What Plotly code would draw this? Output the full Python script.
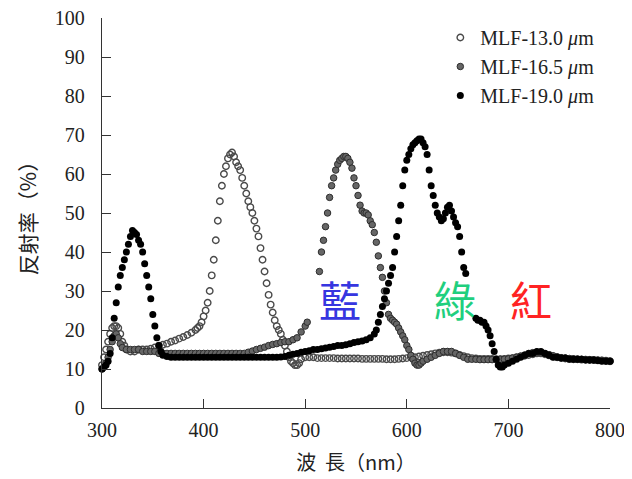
import plotly.graph_objects as go

# ---------------- data ----------------
wl_13 = [300, 302, 304, 306, 308, 310, 312, 314, 316, 318, 320, 322, 324, 328, 332, 336, 340, 344, 348, 352,
         356, 360, 364, 368, 372, 376, 380, 384, 388, 392, 394, 396, 398, 400, 402, 404, 406, 408, 410, 412,
         414, 416, 418, 420, 422, 424, 426, 428, 430, 432, 434, 436, 438, 440, 442, 444, 446, 448, 450, 452,
         454, 456, 458, 460, 462, 464, 466, 468, 470, 472, 474, 476, 478, 480, 482, 484, 486, 488, 490, 492,
         494, 496, 500, 504, 508, 512, 516, 520, 524, 528, 532, 536, 540, 544, 548, 552, 556, 560, 564, 568,
         572, 576, 580, 584, 588, 592, 596, 600, 604, 608, 612, 616, 620, 624, 628, 632, 636, 640, 644, 648,
         652, 656, 660, 664, 668, 672, 676, 680, 684, 688, 692, 696, 700, 704, 708, 712, 716, 720, 724, 728,
         732, 736, 740, 744, 748, 752, 756, 760, 764, 768, 772, 776, 780, 784, 788, 792, 796, 800]
r_13 = [11, 13, 15, 17, 19, 20.5, 21, 21, 20.5, 19, 17, 16, 15, 14.5, 14.5, 15, 15, 15, 15.2, 15.5,
        16, 16.2, 16.5, 17, 17.3, 17.8, 18.2, 18.7, 19.3, 20, 20.5, 21, 22, 23.5, 25, 27, 30, 34, 38, 43,
        48, 53, 57, 60, 62, 64, 65, 65.5, 64.5, 63, 62, 61, 59, 57, 55, 53, 51.5, 50, 48, 46,
        44, 41, 38, 35, 32, 29, 26.5, 24.5, 22.5, 21, 20, 19, 17.5, 16, 14.5, 13, 12, 11.5, 11, 11,
        11.5, 12.5, 13, 13, 13, 12.8, 12.8, 12.8, 12.8, 12.8, 12.7, 12.7, 12.7, 12.7, 12.7, 12.7, 12.6, 12.6, 12.6, 12.6,
        12.6, 12.6, 12.5, 12.5, 12.5, 12.6, 12.7, 12.8, 13, 13, 13.2, 13.4, 13.6, 13.8, 14, 14.2, 14.3, 14.3, 14.2, 14,
        13.6, 13.3, 13, 12.8, 12.7, 12.6, 12.6, 12.6, 12.6, 12.5, 12.5, 12.6, 12.7, 12.8, 13, 13.2, 13.4, 13.6, 13.8, 14,
        14, 13.8, 13.5, 13.2, 13, 12.8, 12.7, 12.6, 12.5, 12.5, 12.4, 12.4, 12.3, 12.3, 12.2, 12.2, 12.1, 12]

wl_165 = [300, 302, 304, 306, 308, 310, 312, 314, 316, 318, 320, 324, 328, 332, 336, 340, 344, 348, 352, 356,
          360, 364, 368, 372, 376, 380, 384, 388, 392, 396, 400, 404, 408, 412, 416, 420, 424, 428, 432, 436,
          440, 444, 448, 452, 456, 460, 464, 468, 472, 476, 480, 484, 488, 492, 496, 500, 502,
          514, 516, 518, 520, 522, 524, 526, 528, 530, 532, 534, 536, 538, 540, 542, 544, 546, 548, 550,
          552, 554, 556, 558, 560, 562, 564, 566, 568, 570, 572, 574, 576, 578, 580, 582, 584, 586, 588, 590,
          592, 594, 596, 598, 600, 602, 604, 606, 608, 610, 612, 614, 616, 620, 624, 628, 632, 636, 640, 644,
          648, 652, 656, 660, 664, 668, 672, 676, 680, 684, 688, 692, 696, 700, 704, 708, 712, 716, 720, 724,
          728, 732, 736, 740, 744, 748, 752, 756, 760, 764, 768, 772, 776, 780, 784, 788, 792, 796, 800]
r_165 = [10, 10.5, 11.5, 13, 15, 17, 18.5, 19, 18, 16.5, 15.5, 15, 15, 15, 15, 14.5, 14.5, 14.5, 14.5, 14,
         14, 14, 14, 14, 14, 14, 14, 14, 14, 14, 14, 14, 14, 14, 14, 14, 14, 14, 14, 14,
         14, 14.3, 14.6, 15, 15.3, 15.6, 16, 16.3, 16.5, 16.8, 17, 17, 17.5, 18, 19.5, 21, 22,
         35, 40, 43, 46.5, 50, 54, 57, 59, 61, 62.5, 63.5, 64, 64.5, 64.5, 64, 63, 61.5, 59, 57,
         54.5, 52, 50.5, 50, 50, 49.5, 48, 47, 45, 42.5, 39, 36, 33.5, 30, 27, 24, 23, 22.5, 22, 21.5,
         20.5, 19.5, 18.5, 17.5, 16, 15, 13.5, 12.5, 11.5, 11, 11, 11.5, 12, 12.5, 13, 13.5, 14, 14.5, 14.5, 14.5,
         14, 13.5, 13, 12.5, 12.5, 12.5, 12.4, 12.4, 12.4, 12.4, 12.4, 12.5, 12.5, 12.6, 12.8, 13, 13.3, 13.6, 14, 14.2,
         14.3, 14.3, 14, 13.7, 13.4, 13.1, 12.9, 12.8, 12.7, 12.6, 12.5, 12.5, 12.4, 12.4, 12.3, 12.3, 12.2, 12.1, 12]

wl_190 = [300, 302, 304, 306, 308, 310, 312, 314, 316, 318, 320, 322, 324, 326, 328, 330, 332, 334, 336, 338,
          340, 342, 344, 346, 348, 350, 352, 354, 356, 358, 360, 364, 368, 372, 376, 380, 384, 388, 392, 396,
          400, 404, 408, 412, 416, 420, 424, 428, 432, 436, 440, 444, 448, 452, 456, 460, 464, 468, 472, 476,
          480, 484, 488, 492, 496, 500, 504, 508, 512, 516, 520, 524, 528, 532, 536, 540, 544, 548, 552, 556,
          560, 564, 568, 570, 572, 574, 576, 578, 580, 582, 584, 586, 588, 590, 592, 594, 596, 598, 600, 602,
          604, 606, 608, 610, 612, 614, 616, 618, 620, 622, 624, 626, 628, 630, 632, 634, 636, 638, 640, 642,
          644, 646, 648, 650, 652, 654, 656, 658, 668, 670, 672, 674, 676, 678, 680, 682, 684, 686, 688, 690,
          692, 694, 696, 700, 704, 708, 712, 716, 720, 724, 728, 732, 736, 740, 744, 748, 752, 756, 760, 764,
          768, 772, 776, 780, 784, 788, 792, 796, 800]
r_190 = [10, 10.5, 11, 12, 14, 18, 23, 27, 31, 34, 36, 38, 40, 42, 44, 45.5, 45, 44.5, 43, 42,
         40, 37, 34, 31, 28, 24, 21, 18, 16, 14.5, 13.5, 13.2, 13, 13, 13, 13, 13, 13, 13, 13,
         13, 13, 13, 13, 13, 13, 13, 13, 13, 13, 13, 13, 13, 13, 13, 13, 13, 13, 13, 13.1,
         13.2, 13.5, 13.8, 14, 14.3, 14.5, 14.7, 15, 15, 15.2, 15.4, 15.6, 15.8, 16, 16, 16.2, 16.5, 16.8, 17, 17.2,
         17.5, 18, 19, 20, 22, 24, 26, 28, 30, 32, 34, 36, 40, 44, 48, 52, 57, 61, 63.5, 65,
         66.5, 67.5, 68, 68.5, 69, 69, 68, 67, 65, 61, 57, 54.5, 52, 50, 49, 48, 48.5, 50, 51.5, 52,
         50.5, 49, 47.5, 46.5, 44, 40, 36, 34.5, 23, 22.5, 22.5, 22, 22, 21, 20, 18.5, 16.5, 14.5, 12.5, 11,
         10.5, 10.5, 11, 11.5, 12, 12.5, 13, 13.5, 14, 14, 14.5, 14.5, 14, 13.5, 13, 13, 12.8, 12.8, 12.5, 12.5,
         12.5, 12.5, 12.3, 12.3, 12.3, 12.2, 12, 12, 12]

series_names = ["MLF-13.0 <i>μ</i>m", "MLF-16.5 <i>μ</i>m", "MLF-19.0 <i>μ</i>m"]
x_ticks = [300, 400, 500, 600, 700, 800]
y_ticks = [0, 10, 20, 30, 40, 50, 60, 70, 80, 90, 100]
color_labels = ["藍", "綠", "紅"]
color_label_x = [534, 647, 722]
color_label_y = 28

# ---------------- figure ----------------
serif = "Liberation Serif, Times New Roman, serif"
fig = go.Figure()
fig.add_trace(go.Scatter(x=wl_13, y=r_13, mode="markers", name=series_names[0], legendgroup="a",
                         cliponaxis=False,
                         marker=dict(symbol="circle-open", size=6.5, color="#4a4a4a", line=dict(width=1.4))))
fig.add_trace(go.Scatter(x=wl_165, y=r_165, mode="markers", name=series_names[1], legendgroup="b",
                         cliponaxis=False,
                         marker=dict(symbol="circle", size=6.5, color="#666666",
                                     line=dict(width=1, color="#2e2e2e"))))
fig.add_trace(go.Scatter(x=wl_190, y=r_190, mode="markers", name=series_names[2], legendgroup="c",
                         cliponaxis=False,
                         marker=dict(symbol="circle", size=7, color="#000000")))

label_colors = ["#3636e0", "#1fcf7e", "#ff2323"]
for t, xp, c in zip(color_labels, color_label_x, label_colors):
    fig.add_annotation(x=xp, y=color_label_y, text=t, showarrow=False, xref="x", yref="y",
                       font=dict(size=42, color=c, family="Noto Sans CJK TC"))

axis_common = dict(ticks="inside", ticklen=9, tickwidth=1.3, tickcolor="#333",
                   showline=True, linecolor="#333", linewidth=1.4, showgrid=False, zeroline=False,
                   automargin=False, ticklabeloverflow="allow",
                   tickfont=dict(family=serif, size=20, color="#222"))

# the page body adds an 8px offset, so the figure is sized to the visible area
fig.update_layout(
    width=624, height=471,
    margin=dict(l=94, r=22, t=10, b=71),
    paper_bgcolor="white", plot_bgcolor="white",
    font=dict(family=serif, color="#222222", size=16),
    legend=dict(x=0.666, y=1.0, xanchor="left", yanchor="top", traceorder="grouped",
                tracegroupgap=0, bgcolor="rgba(0,0,0,0)",
                font=dict(family=serif, size=20, color="#222222")),
    xaxis=dict(range=[300, 800], tickvals=x_ticks, ticklabelstandoff=4,
               title=dict(text="波  長（nm）", font=dict(family="Noto Sans CJK TC", size=20, color="#222"),
                          standoff=15),
               **axis_common),
    yaxis=dict(range=[0, 100], tickvals=y_ticks, ticklabelstandoff=12,
               title=dict(text="反射率（%）", font=dict(family="Noto Sans CJK TC", size=21, color="#222"),
                          standoff=12),
               **axis_common),
)

fig.write_html("out.html")
